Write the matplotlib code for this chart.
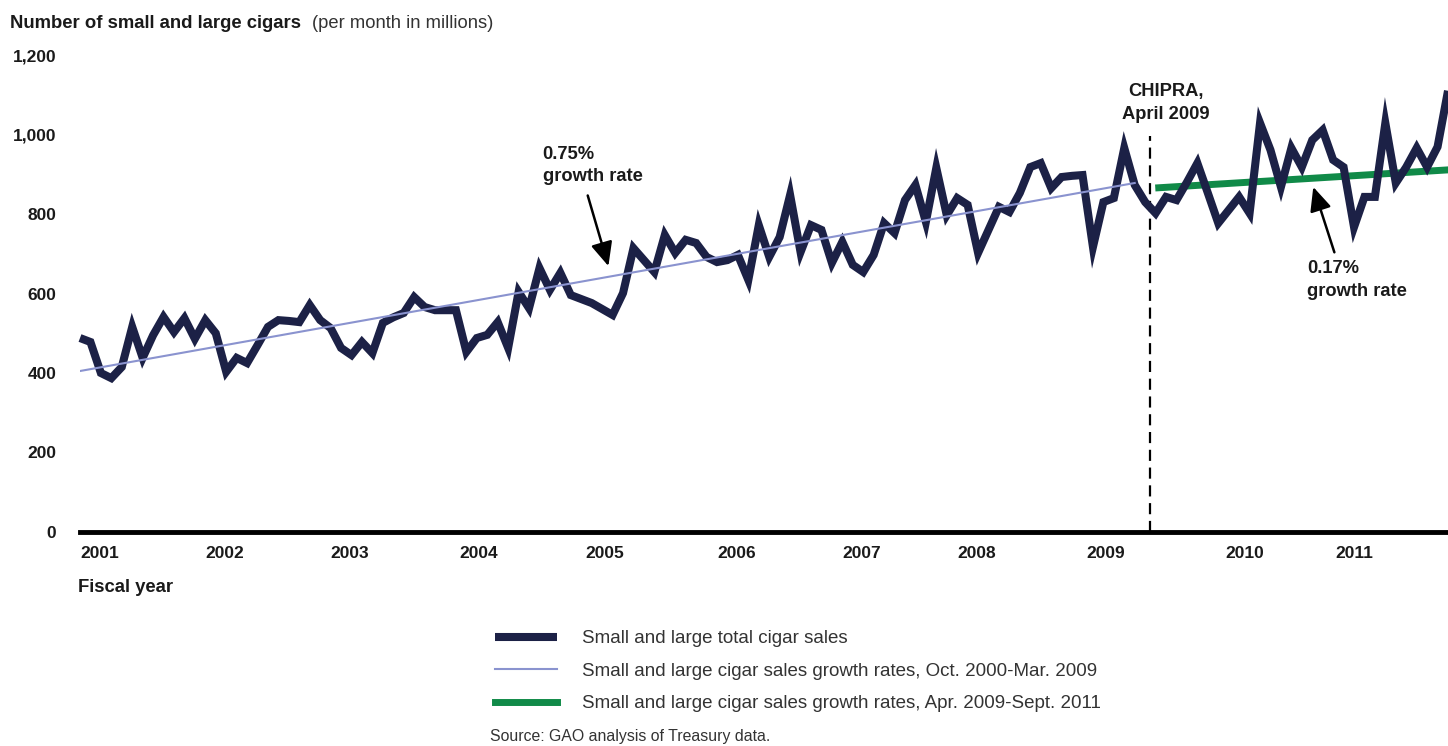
import numpy as np
import matplotlib
matplotlib.use('Agg')
import matplotlib.pyplot as plt

plt.rcParams['font.family'] = ['Liberation Sans', 'DejaVu Sans']

# Monthly sales, Oct. 2000 - Sept. 2011 (millions per month)
sales = [488, 478, 400, 387, 415, 516, 438, 495, 541, 503, 538, 486,
         533, 500, 403, 438, 425, 470, 516, 533, 531, 528, 571, 533,
         513, 463, 445, 478, 450, 526, 540, 551, 591, 566, 558, 558,
         558, 453, 488, 496, 528, 463, 604, 563, 664, 609, 652, 596,
         586, 576, 561, 546, 601, 714, 684, 654, 747, 702, 735, 727,
         692, 679, 684, 697, 634, 772, 692, 742, 848, 704, 772, 760,
         677, 730, 672, 654, 697, 777, 752, 835, 873, 780, 916, 797,
         840, 823, 702, 760, 818, 805, 853, 918, 928, 865, 893, 896,
         898, 717, 830, 840, 966, 873, 830, 802, 843, 835, 880, 928,
         853, 777, 810, 843, 802, 1029, 961, 868, 966, 918, 986, 1011,
         936, 918, 767, 843, 843, 1029, 878, 918, 966, 918, 969, 1110]
months = np.arange(len(sales))

# trend lines (start/end month index and value)
trend_pre_months = [0, 101]
trend_pre_values = [405, 878]
trend_post_months = [103.3, 131]
trend_post_values = [866, 911]

chipra_month = 102.5

year_labels = ['2001', '2002', '2003', '2004', '2005', '2006',
               '2007', '2008', '2009', '2010', '2011']
year_pos = [0, 12, 24, 36.3, 48.4, 61, 73, 84, 96.4, 109.7, 120.2]

y_ticks = [0, 200, 400, 600, 800, 1000, 1200]

navy = '#1c2146'
light_blue = '#8a93cf'
green = '#108a48'
dark = '#1a1a1a'

fig = plt.figure(figsize=(14.48, 7.46), dpi=100)
ax = fig.add_axes([80 / 1448, 1 - 532 / 746, 1368 / 1448, 477 / 746])

ax.plot(months, sales, color=navy, lw=5.8, solid_joinstyle='miter',
        solid_capstyle='butt', clip_on=False, zorder=3,
        label='Small and large total cigar sales')
ax.plot(trend_pre_months, trend_pre_values, color=light_blue, lw=1.5, zorder=4,
        label='Small and large cigar sales growth rates, Oct. 2000-Mar. 2009')
ax.plot(trend_post_months, trend_post_values, color=green, lw=5, zorder=2,
        clip_on=False,
        label='Small and large cigar sales growth rates, Apr. 2009-Sept. 2011')

ax.vlines(chipra_month, 0, 995, colors='black', linestyles=(0, (5, 3)), lw=1.6)

ax.set_xlim(0, 131)
ax.set_ylim(0, 1200)
for s in ['top', 'right', 'left']:
    ax.spines[s].set_visible(False)
ax.spines['bottom'].set_linewidth(3.5)
ax.spines['bottom'].set_zorder(5)

ax.set_yticks(y_ticks)
ax.set_yticklabels([f'{v:,}' for v in y_ticks], fontweight='bold', fontsize=12.5,
                   color=dark)
ax.tick_params(axis='y', length=0, pad=17)

ax.set_xticks(year_pos)
ax.set_xticklabels(year_labels, fontweight='bold', fontsize=12.5, ha='left',
                   color=dark)
ax.tick_params(axis='x', length=0, pad=10)

# titles and labels
fig.text(10 / 1448, 1 - 23 / 746, 'Number of small and large cigars',
         fontweight='bold', fontsize=13.3, va='center', color=dark)
fig.text(312 / 1448, 1 - 23 / 746, '(per month in millions)',
         fontsize=13.2, va='center', color='#333333')
fig.text(78 / 1448, 1 - 587 / 746, 'Fiscal year', fontweight='bold',
         fontsize=13.3, va='center', color=dark)

# annotations
ax.text(104, 1080, 'CHIPRA,\nApril 2009', ha='center', va='center',
        fontweight='bold', fontsize=13.2, color=dark, linespacing=1.45)
arrow = dict(arrowstyle='-|>,head_length=1.1,head_width=0.5',
             color='black', lw=1.8, shrinkB=0)
ax.annotate('0.75%\ngrowth rate', xy=(50.6, 669), xytext=(44.3, 923),
            ha='left', va='center', fontweight='bold', fontsize=13.2,
            color=dark, linespacing=1.4,
            arrowprops=dict(arrow, shrinkA=6, relpos=(0.42, 0)))
ax.annotate('0.17%\ngrowth rate', xy=(118.1, 868), xytext=(117.5, 634),
            ha='left', va='center', fontweight='bold', fontsize=13.2,
            color=dark, linespacing=1.4,
            arrowprops=dict(arrow, shrinkA=4, relpos=(0.3, 1)))

# legend
handles, labels = ax.get_legend_handles_labels()
fig.legend(handles, labels, loc='upper left',
           bbox_to_anchor=(495 / 1448, 1 - 630 / 746), frameon=False,
           borderpad=0, borderaxespad=0, handlelength=3.3, handletextpad=1.35,
           labelspacing=0.83, fontsize=13.5, labelcolor='#333333')

fig.text(490 / 1448, 1 - 737 / 746, 'Source: GAO analysis of Treasury data.',
         fontsize=11.4, va='center', color='#333333')

fig.savefig('out.png', dpi=100)
